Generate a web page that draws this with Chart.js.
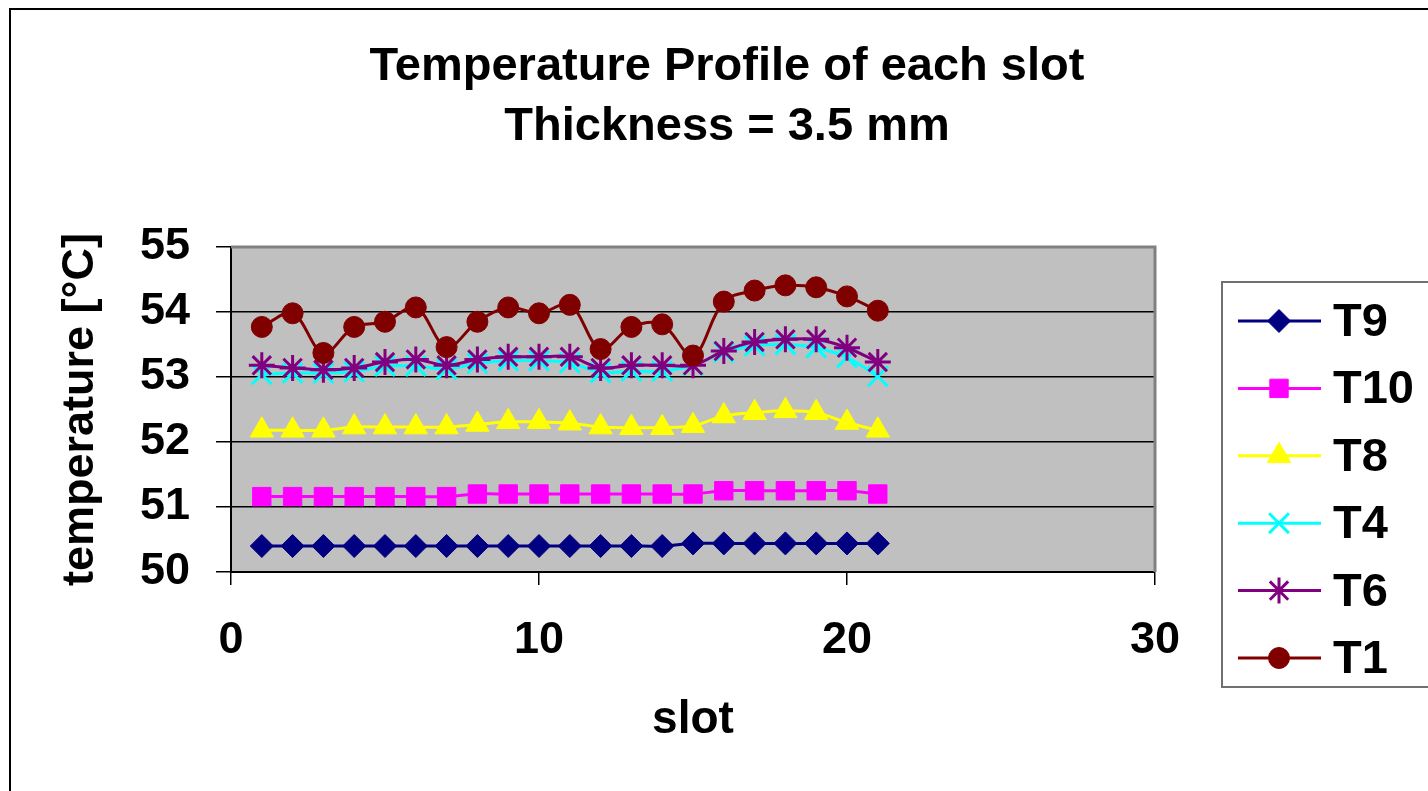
<!DOCTYPE html>
<html>
<head>
<meta charset="utf-8">
<title>Temperature Profile of each slot</title>
<script src="https://cdn.jsdelivr.net/npm/chart.js@4/dist/chart.umd.min.js"></script>
<style>
  body { margin: 0; background: #fff; }
  #wrap { width: 1428px; height: 791px; }
</style>
</head>
<body>
<div id="wrap"><canvas id="myChart" width="1428" height="791"></canvas></div>
<script>
// DATA
const slots = [1, 2, 3, 4, 5, 6, 7, 8, 9, 10, 11, 12, 13, 14, 15, 16, 17, 18, 19, 20, 21];

const t9 = [50.40, 50.40, 50.40, 50.40, 50.40, 50.40, 50.40, 50.40, 50.40, 50.40, 50.40,
            50.40, 50.40, 50.40, 50.44, 50.44, 50.44, 50.44, 50.44, 50.44, 50.44];
const t10 = [51.16, 51.16, 51.16, 51.16, 51.16, 51.16, 51.16, 51.20, 51.20, 51.20, 51.20,
             51.20, 51.20, 51.20, 51.20, 51.25, 51.25, 51.25, 51.25, 51.25, 51.20];
const t8 = [52.18, 52.18, 52.18, 52.23, 52.23, 52.23, 52.23, 52.27, 52.31, 52.31, 52.29,
            52.23, 52.22, 52.22, 52.25, 52.40, 52.45, 52.48, 52.45, 52.30, 52.18];
const t4 = [53.04, 53.06, 53.06, 53.08, 53.17, 53.17, 53.12, 53.21, 53.25, 53.25, 53.22,
            53.07, 53.09, 53.09, 53.18, 53.38, 53.48, 53.50, 53.45, 53.30, 53.01];
const t6 = [53.18, 53.14, 53.11, 53.14, 53.23, 53.27, 53.18, 53.27, 53.31, 53.31, 53.31,
            53.14, 53.18, 53.18, 53.18, 53.40, 53.54, 53.58, 53.58, 53.45, 53.23];
const t1 = [53.77, 53.98, 53.37, 53.77, 53.85, 54.07, 53.46, 53.85, 54.07, 53.98, 54.11,
            53.43, 53.77, 53.81, 53.33, 54.16, 54.33, 54.41, 54.38, 54.24, 54.02];

const seriesNames = ['T9', 'T10', 'T8', 'T4', 'T6', 'T1'];
const xTicks = [0, 10, 20, 30];
const yTicks = [50, 51, 52, 53, 54, 55];
const titleLines = ['Temperature Profile of each slot', 'Thickness = 3.5 mm'];

const FONT = "'Liberation Sans', Arial, sans-serif";

// HELPERS

/**
 * zip slot numbers with values into {x, y} points
 */
function toPoints(values) {
    return slots.map(function (s, i) {
        return {x: s, y: values[i]};
    });
}

function makeSeries(label, values, color, style, radius, order) {
    const thin = (style === 'crossRot' || style === 'star');
    return {
        label: label,
        data: toPoints(values),
        borderColor: color,
        backgroundColor: color,
        borderWidth: 3,
        pointStyle: style,
        pointRadius: radius,
        pointHoverRadius: radius,
        pointBorderWidth: thin ? 3 : 1,
        pointBorderColor: color,
        pointBackgroundColor: color,
        tension: 0.35,
        order: order
    };
}

const datasets = [
    makeSeries(seriesNames[0], t9, '#000080', 'rectRot', 11.5, 5),
    makeSeries(seriesNames[1], t10, '#FF00FF', 'rect', 13, 4),
    makeSeries(seriesNames[2], t8, '#FFFF00', 'triangle', 13.5, 3),
    makeSeries(seriesNames[3], t4, '#00FFFF', 'crossRot', 14, 2),
    makeSeries(seriesNames[4], t6, '#800080', 'star', 13, 1),
    makeSeries(seriesNames[5], t1, '#800000', 'circle', 10.5, 0)
];

// plot area background, frame and chart title
const plotBox = {
    id: 'plotBox',
    beforeDraw(chart) {
        const {ctx, chartArea: a} = chart;
        ctx.save();
        // outer chart frame
        ctx.strokeStyle = '#000';
        ctx.lineWidth = 2;
        ctx.strokeRect(10, 9, 1500, 900);
        ctx.fillStyle = '#C0C0C0';
        ctx.fillRect(a.left, a.top, a.right - a.left, a.bottom - a.top);
        // title
        ctx.fillStyle = '#000';
        ctx.font = 'bold 47px ' + FONT;
        ctx.textAlign = 'center';
        ctx.textBaseline = 'middle';
        titleLines.forEach(function (line, i) {
            ctx.fillText(line, 727, 67 + i * 60);
        });
        ctx.restore();
    },
    afterDatasetsDraw(chart) {
        const {ctx, chartArea: a} = chart;
        ctx.save();
        ctx.strokeStyle = '#808080';
        ctx.lineWidth = 3;
        ctx.beginPath();
        ctx.moveTo(a.left, a.top);
        ctx.lineTo(a.right, a.top);
        ctx.lineTo(a.right, a.bottom);
        ctx.stroke();
        ctx.restore();
    }
};

// excel-style legend: line + marker + bold label, in a framed box
const boxLegend = {
    id: 'boxLegend',
    afterDraw(chart) {
        const ctx = chart.ctx;
        const x0 = 1222, y0 = 282, rowGap = 67.4;
        ctx.save();
        ctx.strokeStyle = '#707070';
        ctx.lineWidth = 2;
        ctx.strokeRect(x0, y0, 260, 405);
        chart.data.datasets.forEach(function (ds, i) {
            const y = 321 + i * rowGap;
            ctx.strokeStyle = ds.borderColor;
            ctx.lineWidth = 3;
            ctx.beginPath();
            ctx.moveTo(1238, y);
            ctx.lineTo(1321, y);
            ctx.stroke();
            ctx.fillStyle = ds.pointBackgroundColor;
            ctx.strokeStyle = ds.pointBorderColor;
            ctx.lineWidth = ds.pointBorderWidth;
            Chart.helpers.drawPoint(ctx, {
                pointStyle: ds.pointStyle,
                radius: ds.pointRadius,
                rotation: 0,
                borderWidth: ds.pointBorderWidth
            }, 1279, y);
            ctx.fillStyle = '#000';
            ctx.font = 'bold 47px ' + FONT;
            ctx.textAlign = 'left';
            ctx.textBaseline = 'middle';
            ctx.fillText(ds.label, 1333, y + 2);
        });
        ctx.restore();
    }
};

// DRAW GRAPH
const ctx = document.getElementById('myChart');
const chart = new Chart(ctx, {
    type: 'line',
    data: {datasets: datasets},
    plugins: [plotBox, boxLegend],
    options: {
        responsive: false,
        animation: false,
        devicePixelRatio: 1,
        layout: {padding: {left: 26, right: 273, top: 247, bottom: 0}},
        plugins: {
            legend: {display: false},
            tooltip: {enabled: false},
            title: {display: false}
        },
        scales: {
            x: {
                type: 'linear',
                min: 0,
                max: 30,
                afterBuildTicks: function (scale) {
                    scale.ticks = xTicks.map(function (v) { return {value: v}; });
                },
                afterFit: function (scale) { scale.height = 791 - 572; },
                ticks: {
                    color: '#000',
                    font: {family: FONT, size: 45, weight: 'bold'},
                    padding: 29,
                    maxRotation: 0
                },
                grid: {drawOnChartArea: false, drawTicks: true, tickLength: 13, color: '#000', lineWidth: 1.5},
                border: {color: '#000', width: 2},
                title: {
                    display: true,
                    text: 'slot',
                    color: '#000',
                    font: {family: FONT, size: 46, weight: 'bold'},
                    padding: {top: 0, bottom: 43}
                }
            },
            y: {
                type: 'linear',
                min: 50,
                max: 55,
                afterBuildTicks: function (scale) {
                    scale.ticks = yTicks.map(function (v) { return {value: v}; });
                },
                afterFit: function (scale) { scale.width = 231 - 26; },
                ticks: {
                    color: '#000',
                    font: {family: FONT, size: 45, weight: 'bold'},
                    padding: 26
                },
                grid: {color: '#000', lineWidth: 1.5, tickLength: 15},
                border: {color: '#000', width: 2},
                title: {
                    display: true,
                    text: 'temperature [°C]',
                    color: '#000',
                    font: {family: FONT, size: 45, weight: 'bold'},
                    padding: {top: 28, bottom: 0}
                }
            }
        }
    }
});
</script>
</body>
</html>
